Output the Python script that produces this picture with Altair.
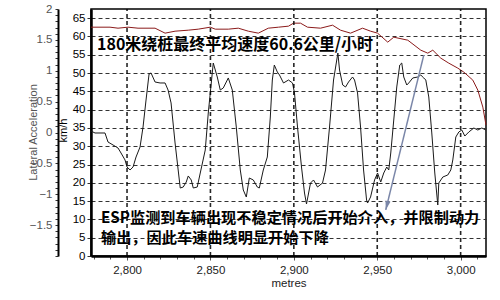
import altair as alt
import pandas as pd

# Lateral acceleration trace (black line)
acc_metres = [2778.4, 2780.8, 2786.8, 2788.6, 2791.6, 2794.6, 2796.4, 2798.8, 2800.0, 2801.8,
              2803.6, 2805.4, 2807.8, 2809.6, 2811.4, 2813.2, 2814.4, 2816.8, 2819.8, 2822.8,
              2824.6, 2826.4, 2828.8, 2831.9, 2833.7, 2835.5, 2836.7, 2838.5, 2839.7, 2842.1,
              2843.9, 2846.9, 2848.7, 2851.1, 2851.7, 2854.1, 2855.9, 2857.7, 2860.7, 2863.1,
              2865.5, 2867.9, 2869.7, 2871.5, 2873.3, 2875.7, 2878.1, 2879.3, 2881.7, 2884.1,
              2885.9, 2887.1, 2888.3, 2890.1, 2891.4, 2893.8, 2896.8, 2899.2, 2900.4, 2902.2,
              2904.6, 2906.4, 2907.6, 2910.0, 2911.8, 2914.2, 2917.2, 2919.0, 2921.4, 2923.8,
              2926.4, 2927.4, 2929.3, 2931.0, 2932.8, 2935.2, 2936.4, 2938.2, 2940.0, 2941.8,
              2943.6, 2944.2, 2946.0, 2948.4, 2950.2, 2952.1, 2953.9, 2955.7, 2956.9, 2958.1,
              2959.9, 2961.7, 2963.5, 2964.7, 2965.9, 2967.7, 2968.9, 2971.3, 2974.3, 2976.1,
              2977.9, 2979.1, 2980.9, 2982.7, 2984.5, 2986.3, 2986.9, 2989.3, 2992.3, 2994.1,
              2995.3, 2997.1, 2998.9, 3000.7, 3002.5, 3004.9, 3007.9, 3010.3, 3012.7, 3015.1]
acc_values = [0.024, -0.008, -0.008, -0.154, -0.202, -0.251, -0.332, -0.445, -0.559, -0.607,
              -0.559, -0.397, -0.235, 0.089, 0.526, 0.947, 0.964, 0.818, 0.802, 0.802,
              0.688, 0.478, -0.170, -0.899, -0.883, -0.802, -0.704, -0.769, -0.899, -0.883,
              -0.656, -0.283, 0.316, 0.964, 1.125, 0.899, 0.688, 0.721, 0.883, 0.688,
              0.089, -0.607, -0.931, -1.045, -0.737, -0.769, -0.883, -0.899, -0.607, -0.397,
              0.251, 0.850, 1.093, 0.980, 0.931, 0.802, 0.850, 0.802, 0.640, 0.089,
              -0.559, -0.980, -1.158, -0.818, -0.769, -0.883, -0.818, -0.607, 0.089, 0.850,
              1.287, 1.012, 0.769, 0.737, 0.818, 0.899, 0.850, 0.640, 0.089, -0.607,
              -1.093, -1.142, -1.045, -0.769, -0.656, -0.802, -0.656, -0.559, -0.607, -0.332,
              0.202, 0.737, 1.093, 1.125, 0.899, 0.769, 0.802, 0.883, 0.899, 0.931,
              0.883, 0.850, 0.575, -0.008, -0.656, -1.174, -0.818, -0.721, -0.688, -0.607,
              -0.445, -0.073, 0.008, 0.040, -0.057, 0.008, 0.073, 0.040, 0.073, 0.040]

# Speed trace (red line), km/h
speed_metres = [2778.4, 2783.8, 2789.8, 2794.6, 2800.6, 2806.6, 2816.8, 2822.8, 2828.8, 2836.7,
                2842.7, 2849.9, 2852.9, 2860.7, 2866.7, 2872.7, 2878.7, 2884.7, 2890.8, 2896.8,
                2899.8, 2904.0, 2908.2, 2916.0, 2923.2, 2928.0, 2934.0, 2941.2, 2946.0, 2950.2,
                2956.3, 2959.9, 2968.3, 2976.1, 2980.3, 2983.3, 2988.1, 2992.9, 2998.3, 3001.9,
                3007.3, 3010.3, 3013.3, 3015.2]
speed_values = [62.53, 62.53, 62.53, 62.26, 62.53, 62.26, 62.26, 60.90, 61.44, 61.71,
                61.99, 62.53, 61.99, 61.99, 62.26, 61.44, 60.90, 62.26, 62.53, 62.81,
                63.63, 63.63, 62.53, 62.26, 63.08, 61.71, 60.90, 62.26, 61.44, 60.90,
                58.44, 59.80, 58.98, 56.25, 55.43, 56.25, 54.07, 52.70, 51.34, 50.25,
                48.06, 45.33, 40.69, 35.77]

# Annotations (anchored in data units)
headline_text = ["180米绕桩最终平均速度60.6公里/小时"]
headline_m = [2782.0]
headline_kmh = [57.75]
note_text = ["ESP监测到车辆出现不稳定情况后开始介入，并限制动力", "输出，因此车速曲线明显开始下降"]
note_m = [2784.4, 2784.4]
note_kmh = [10.4, 4.9]
arrow_m = [2977.9]
arrow_kmh = [54.9]
arrow_m2 = [2955.1]
arrow_kmh2 = [12.6]

x_major_ticks = [2800, 2850, 2900, 2950, 3000]
x_minor_ticks = list(range(2780, 3020, 10))
acc_ticks = [round(-2 + 0.1 * i, 1) for i in range(41)]
kmh_ticks = list(range(0, 70, 5))
KMH_MIN, KMH_MAX = 0, 67.5

FONT = "Liberation Sans"
x_scale = alt.Scale(domain=[2778.4, 3015.2], nice=False, zero=False)

x_major = alt.X(
    "m:Q",
    scale=x_scale,
    axis=alt.Axis(
        orient="bottom",
        values=x_major_ticks,
        format=",d",
        title="metres",
        grid=False,
        domainColor="black",
        domainWidth=2.5,
        tickColor="#555555",
        tickSize=4,
        labelPadding=4,
        labelFont=FONT,
        labelFontSize=11.5,
        labelColor="#222222",
        labelOverlap=False,
        labelFlush=False,
        titleFont=FONT,
        titleFontSize=11.5,
        titleFontWeight="normal",
        titleColor="#222222",
        titlePadding=2,
    ),
)

x_minor = alt.X(
    "m:Q",
    scale=x_scale,
    axis=alt.Axis(
        orient="bottom",
        values=x_minor_ticks,
        labels=False,
        title=None,
        grid=False,
        domain=False,
        tickColor="#555555",
        tickSize=3,
    ),
)

y_acc = alt.Y(
    "acc:Q",
    scale=alt.Scale(domain=[-2, 2], nice=False, zero=False),
    axis=alt.Axis(
        orient="left",
        offset=33,
        values=acc_ticks,
        labelExpr="abs(round(datum.value*10)) % 5 == 0 && datum.value > -1.95 ? format(datum.value, '~g') : ''",
        grid=False,
        title="Lateral Acceleration",
        titleX=-25,
        titleY=123,
        titleAngle=270,
        titleAlign="center",
        titleBaseline="middle",
        titleFont=FONT,
        titleFontSize=11,
        titleFontWeight="normal",
        titleColor="#555555",
        labelFont=FONT,
        labelFontSize=11.5,
        labelColor="#555555",
        labelPadding=3,
        labelOverlap=False,
        labelFlush=False,
        domainColor="black",
        domainWidth=2,
        tickColor="#333333",
        tickSize=3,
    ),
)

y_kmh = alt.Y(
    "kmh:Q",
    scale=alt.Scale(domain=[KMH_MIN, KMH_MAX], nice=False, zero=True),
    axis=alt.Axis(
        orient="left",
        values=kmh_ticks,
        format="d",
        grid=True,
        gridDash=[4, 3],
        gridColor="#333333",
        title="km/h",
        titleX=-27.5,
        titleY=121,
        titleAngle=270,
        titleAlign="center",
        titleBaseline="middle",
        titleFont=FONT,
        titleFontSize=11,
        titleFontWeight="normal",
        titleColor="black",
        labelFont=FONT,
        labelFontSize=11.5,
        labelColor="black",
        labelPadding=2,
        labelOverlap=False,
        labelFlush=False,
        domainColor="black",
        domainWidth=2.5,
        tickColor="#333333",
        tickSize=4,
    ),
)

acc_df = pd.DataFrame({"m": acc_metres, "acc": acc_values})
black = alt.Chart(acc_df).mark_line(color="#1a1a1a", strokeWidth=1).encode(
    x=x_minor, y=y_acc
)

# vertical dashed grid lines at the major x ticks (own layer, drawn on top)
grid_df = pd.DataFrame({
    "m": x_major_ticks,
    "lo": [KMH_MIN] * len(x_major_ticks),
    "hi": [KMH_MAX] * len(x_major_ticks),
})
vgrid = alt.Chart(grid_df).mark_rule(
    color="#000000", strokeWidth=1.6, strokeDash=[4, 3], opacity=0.85
).encode(
    x=alt.X("m:Q", scale=x_scale, axis=None),
    y=alt.Y("lo:Q", scale=alt.Scale(domain=[KMH_MIN, KMH_MAX], nice=False), axis=None),
    y2="hi:Q",
)

speed_df = pd.DataFrame({"m": speed_metres, "kmh": speed_values})
red = alt.Chart(speed_df).mark_line(color="#8b1a1a", strokeWidth=1).encode(
    x=x_major, y=y_kmh
)

headline_df = pd.DataFrame({"m": headline_m, "kmh": headline_kmh, "t": headline_text})
headline = alt.Chart(headline_df).mark_text(
    align="left", baseline="middle", font="Noto Sans CJK SC", fontWeight="bold",
    fontSize=16, color="black"
).encode(x=x_major, y=y_kmh, text="t:N")

note_df = pd.DataFrame({"m": note_m, "kmh": note_kmh, "t": note_text})
notes = alt.Chart(note_df).mark_text(
    align="left", baseline="middle", font="Noto Sans CJK SC", fontWeight="bold",
    fontSize=15.2, color="black"
).encode(x=x_major, y=y_kmh, text="t:N")

arrow_df = pd.DataFrame({"m": arrow_m, "kmh": arrow_kmh, "m2": arrow_m2, "kmh2": arrow_kmh2})
arrow_line = alt.Chart(arrow_df).mark_rule(color="#7a86a8", strokeWidth=1.5).encode(
    x=x_major, y=y_kmh, x2="m2:Q", y2="kmh2:Q"
)
head_df = pd.DataFrame({"m": arrow_m2, "kmh": arrow_kmh2})
arrow_head = alt.Chart(head_df).mark_point(
    shape="M0,0L-0.45,1.6L0.45,1.6Z", filled=True, size=130, angle=194,
    color="#7a86a8", opacity=1
).encode(x=x_major, y=y_kmh)

speed_layer = alt.layer(red, headline, notes, arrow_line, arrow_head)

chart = (
    alt.layer(black, speed_layer, vgrid)
    .resolve_scale(x="independent", y="independent")
    .properties(
        width=395,
        height=247,
        autosize=alt.AutoSizeParams(type="none"),
        padding={"left": 91, "top": 9, "right": 14, "bottom": 44},
        background="white",
    )
    .configure_view(stroke="black", strokeWidth=1.5)
)

chart.save("out.html", embed_options={"renderer": "svg", "actions": False})
